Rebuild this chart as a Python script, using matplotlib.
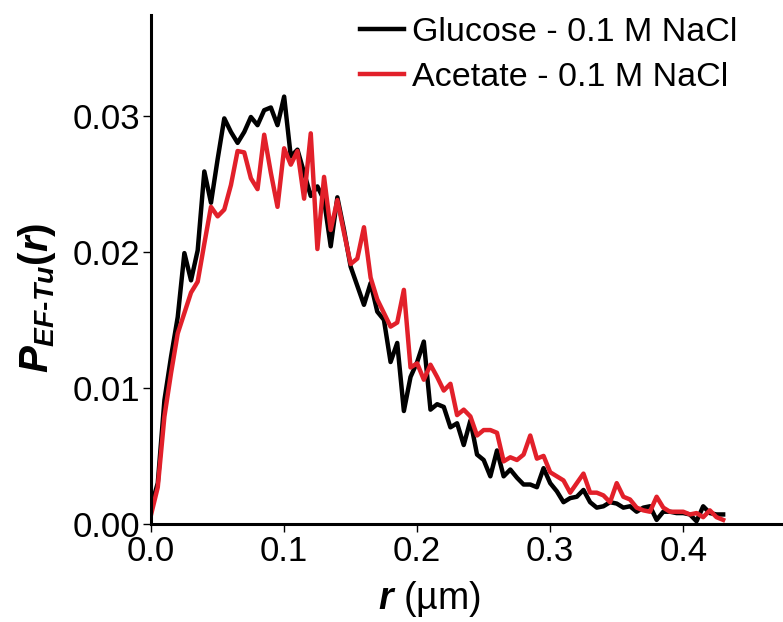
import numpy as np
import matplotlib
matplotlib.use("Agg")
import matplotlib.pyplot as plt

# radial distance grid (um)
r = np.arange(87) * 0.005

glucose = [
    0.0013, 0.0030, 0.0091, 0.0123, 0.0152, 0.0199, 0.0179, 0.0201, 0.0259, 0.0236,
    0.0268, 0.0298, 0.0288, 0.0280, 0.0288, 0.0299, 0.0293, 0.0304, 0.0306, 0.0293,
    0.0314, 0.0270, 0.0275, 0.0258, 0.0241, 0.0248, 0.0238, 0.0204, 0.0240, 0.0216,
    0.0189, 0.0175, 0.0161, 0.0177, 0.0156, 0.0150, 0.0119, 0.0133, 0.0083, 0.0108,
    0.0119, 0.0134, 0.0084, 0.0088, 0.0086, 0.0071, 0.0074, 0.0058, 0.0076, 0.0051,
    0.0047, 0.0035, 0.0054, 0.0035, 0.0040, 0.0034, 0.0029, 0.0029, 0.0027, 0.0041,
    0.0030, 0.0024, 0.0016, 0.0019, 0.0020, 0.0025, 0.0016, 0.0012, 0.0013, 0.0016,
    0.0015, 0.0012, 0.0013, 0.0009, 0.0012, 0.0013, 0.0003, 0.0009, 0.0009, 0.0008,
    0.0008, 0.0007, 0.0002, 0.0013, 0.0008, 0.0007, 0.0007,
]

acetate = [
    0.0007, 0.0027, 0.0079, 0.0111, 0.0140, 0.0155, 0.0170, 0.0178, 0.0206, 0.0233,
    0.0226, 0.0231, 0.0249, 0.0274, 0.0273, 0.0254, 0.0246, 0.0286, 0.0258, 0.0233,
    0.0276, 0.0264, 0.0274, 0.0239, 0.0287, 0.0202, 0.0255, 0.0216, 0.0238, 0.0214,
    0.0191, 0.0195, 0.0218, 0.0181, 0.0165, 0.0155, 0.0145, 0.0148, 0.0172, 0.0115,
    0.0118, 0.0106, 0.0117, 0.0108, 0.0098, 0.0103, 0.0080, 0.0084, 0.0079, 0.0065,
    0.0069, 0.0069, 0.0067, 0.0046, 0.0049, 0.0047, 0.0051, 0.0065, 0.0048, 0.0050,
    0.0038, 0.0035, 0.0032, 0.0023, 0.0030, 0.0037, 0.0023, 0.0023, 0.0021, 0.0016,
    0.0030, 0.0020, 0.0018, 0.0012, 0.0010, 0.0009, 0.0020, 0.0012, 0.0009, 0.0009,
    0.0009, 0.0007, 0.0008, 0.0005, 0.0010, 0.0005, 0.0003,
]

labels = ["Glucose - 0.1 M NaCl", "Acetate - 0.1 M NaCl"]
x_ticks = [0.0, 0.1, 0.2, 0.3, 0.4]
y_ticks = [0.00, 0.01, 0.02, 0.03]

plt.rcParams["font.family"] = ["Liberation Sans", "DejaVu Sans"]
plt.rcParams["mathtext.fontset"] = "custom"
plt.rcParams["mathtext.it"] = "Liberation Sans:bold:italic"
plt.rcParams["mathtext.rm"] = "Liberation Sans:bold"
plt.rcParams["mathtext.bf"] = "Liberation Sans:bold"

fig = plt.figure(figsize=(7.83, 6.22), dpi=100)
ax = fig.add_axes([0.193, 0.1576, 0.807, 0.8184])

ax.plot(r, glucose, color="black", lw=3.2, label=labels[0])
ax.plot(r, acetate, color="#e2202a", lw=3.2, label=labels[1])

ax.set_xlim(0, 0.475)
ax.set_ylim(0, 0.0374)
ax.set_xticks(x_ticks)
ax.set_xticklabels([f"{v:.1f}" for v in x_ticks])
ax.set_yticks(y_ticks)
ax.set_yticklabels([f"{v:.2f}" for v in y_ticks])

for side in ("top", "right"):
    ax.spines[side].set_visible(False)
for side in ("left", "bottom"):
    ax.spines[side].set_linewidth(2.2)
ax.tick_params(direction="out", length=6, width=1, labelsize=25, pad=2)

ax.set_xlabel("$r$ (\u00b5m)", fontsize=27)
ax.xaxis.set_label_coords(0.441, -0.108)
ax.set_ylabel(r"$P_{EF\text{-}Tu}(r)$", fontsize=29)
ax.yaxis.set_label_coords(-0.148, 0.444)

ax.legend(loc="upper right", bbox_to_anchor=(0.977, 1.057), frameon=False,
          fontsize=24.5, handlelength=1.3, handletextpad=0.25, labelspacing=0.42)

fig.savefig("out.png", dpi=100, facecolor="white")
